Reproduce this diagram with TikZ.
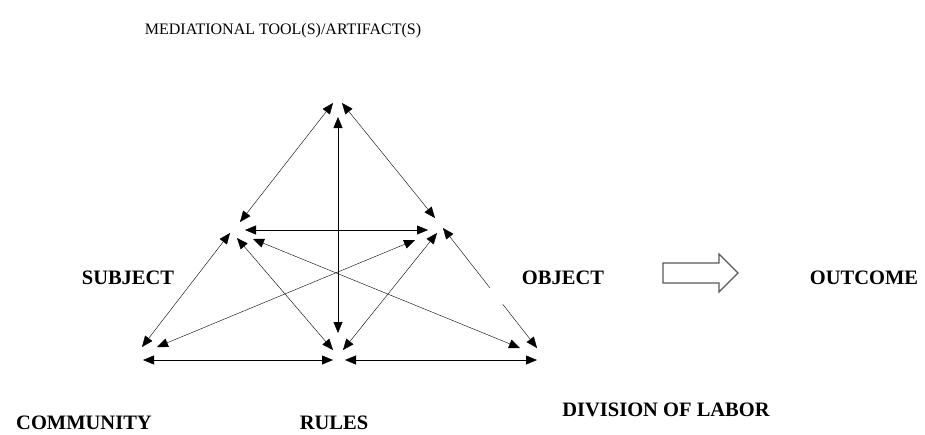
\documentclass[tikz,border=0pt]{standalone}
\usepackage{fontspec}
\setmainfont{Liberation Serif}
\usepackage{tikz}
\usetikzlibrary{
        arrows.meta,
        positioning
    }
\tikzset{>={Triangle[length=11pt,width=9pt]},line width=1.5pt}

\begin{document}
\begin{tikzpicture}[x=1pt,y=-1pt,
        both/.style={<->,black},
        lbl/.style={font=\fontsize{20.5}{24}\selectfont\bfseries,inner sep=0pt},
        ttl/.style={font=\fontsize{16}{19}\selectfont,inner sep=0pt},
        blockarrow/.style={draw=black!65,line width=1.2pt,fill=white}]
    \useasboundingbox (0,0) rectangle (925,434);
    % corners of the triangle
    \coordinate (T) at (338,110);
    \coordinate (S) at (240,231);
    \coordinate (O) at (436,231);
    \coordinate (C) at (150,352);
    \coordinate (R) at (338,352);
    \coordinate (D) at (530,352);
    % labels
    \node[ttl] (tool)      at (283,31)  {MEDIATIONAL TOOL(S)/ARTIFACT(S)};
    \node[lbl] (subject)   at (128,278) {SUBJECT};
    \node[lbl] (object)    at (563,278) {OBJECT};
    \node[lbl] (outcome)   at (864,278) {OUTCOME};
    \node[lbl] (community) at (84,423)  {COMMUNITY};
    \node[lbl] (rules)     at (334,423) {RULES};
    \node[lbl] (division)  at (666,410) {DIVISION OF LABOR};
    % arrows
    \draw[both] ([shift={(-5,-7)}]T) -- ([shift={(0,-9)}]S);
    \draw[both] ([shift={(4,-7)}]T) -- ([shift={(-1,-13)}]O);
    \draw[both] ([shift={(0,7)}]T) -- ([shift={(0,-19)}]R);
    \draw[both] ([shift={(5,-1)}]S) -- ([shift={(-8,-1)}]O);
    \draw[both] ([shift={(-10,2)}]S) -- ([shift={(-8,-5)}]C);
    \draw[both] ([shift={(-3,7)}]S) -- ([shift={(-5,-2)}]R);
    \draw[both] ([shift={(13,8)}]S) -- ([shift={(-10,-4)}]D);
    \draw[both] ([shift={(-21,9)}]O) -- ([shift={(7,-5)}]C);
    \draw[both] ([shift={(1,2)}]O) -- ([shift={(5,-2)}]R);
    \draw[both,dash pattern=on 65pt off 21pt on 200pt] ([shift={(7,-3)}]O) -- ([shift={(7,-4)}]D);
    \draw[both] ([shift={(-7,8)}]C) -- ([shift={(-5,8)}]R);
    \draw[both] ([shift={(7,8)}]R) -- ([shift={(7,8)}]D);
    % activity leads to outcome
    \draw[blockarrow] (663,263) -- (719,263) -- (719,254) -- (738,273)
        -- (719,292) -- (719,283) -- (663,283) -- cycle;
\end{tikzpicture}
\end{document}
